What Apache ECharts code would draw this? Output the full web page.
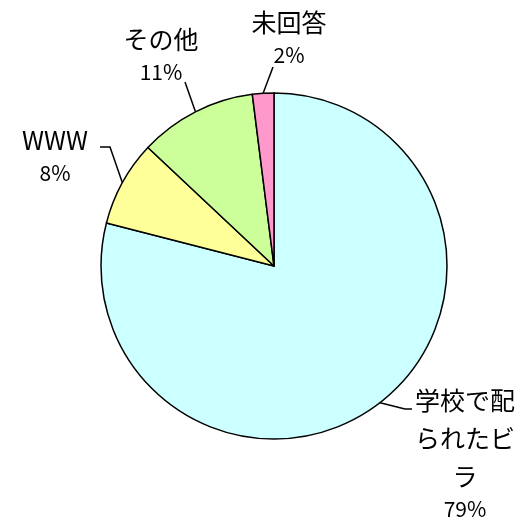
<!DOCTYPE html>
<html><head><meta charset="utf-8">
<script src="https://cdn.jsdelivr.net/npm/echarts@6/dist/echarts.min.js"></script>
<style>html,body{margin:0;padding:0;background:#fff}#c{width:525px;height:521px}</style>
</head><body><div id="c"></div>
<script>
const categories = ['学校で配られたビラ', 'WWW', 'その他', '未回答'];
const values = [79, 8, 11, 2];
const colors = ['#CCFFFF', '#FFFF99', '#CCFF99', '#FF99CC'];

// label placement (center x, top y) and label-line elbow/end points, per slice
const labelPos = [[465, 381], [55, 121], [161, 20], [289, 3]];
const lineTail = [
  [[405, 409], [412, 409]],
  [[110, 147], [100, 147]],
  [[185, 82]],
  [[273, 67]]
];

function wrapName(n) {
  const out = [];
  for (let i = 0; i < n.length; i += 4) out.push(n.slice(i, i + 4));
  return out.join('\n');
}

const chart = echarts.init(document.getElementById('c'));
chart.setOption({
  animation: false,
  series: [{
    type: 'pie',
    center: [274, 266],
    radius: 173,
    startAngle: 90,
    clockwise: true,
    data: categories.map((c, i) => ({ name: c, value: values[i], itemStyle: { color: colors[i] } })),
    itemStyle: { borderColor: '#000', borderWidth: 1.5 },
    label: {
      show: true,
      color: '#000',
      align: 'center',
      formatter: p => '{n|' + wrapName(p.name) + '}\n{p|' + Math.round(p.percent) + '%}',
      rich: {
        n: { fontFamily: 'Noto Sans CJK JP', fontSize: 25, lineHeight: 38, color: '#000', align: 'center' },
        p: { fontFamily: 'Noto Sans CJK JP', fontSize: 21, lineHeight: 28, color: '#000', align: 'center' }
      }
    },
    labelLine: { show: true, length: 12, length2: 12, lineStyle: { color: '#000', width: 1.5 } },
    labelLayout: function (params) {
      const i = params.dataIndex;
      const pos = labelPos[i];
      const res = { x: pos[0], y: pos[1], align: 'center', verticalAlign: 'top' };
      if (params.labelLinePoints && params.labelLinePoints.length) {
        res.labelLinePoints = [params.labelLinePoints[0]].concat(lineTail[i]);
      }
      return res;
    }
  }]
});
</script></body></html>
